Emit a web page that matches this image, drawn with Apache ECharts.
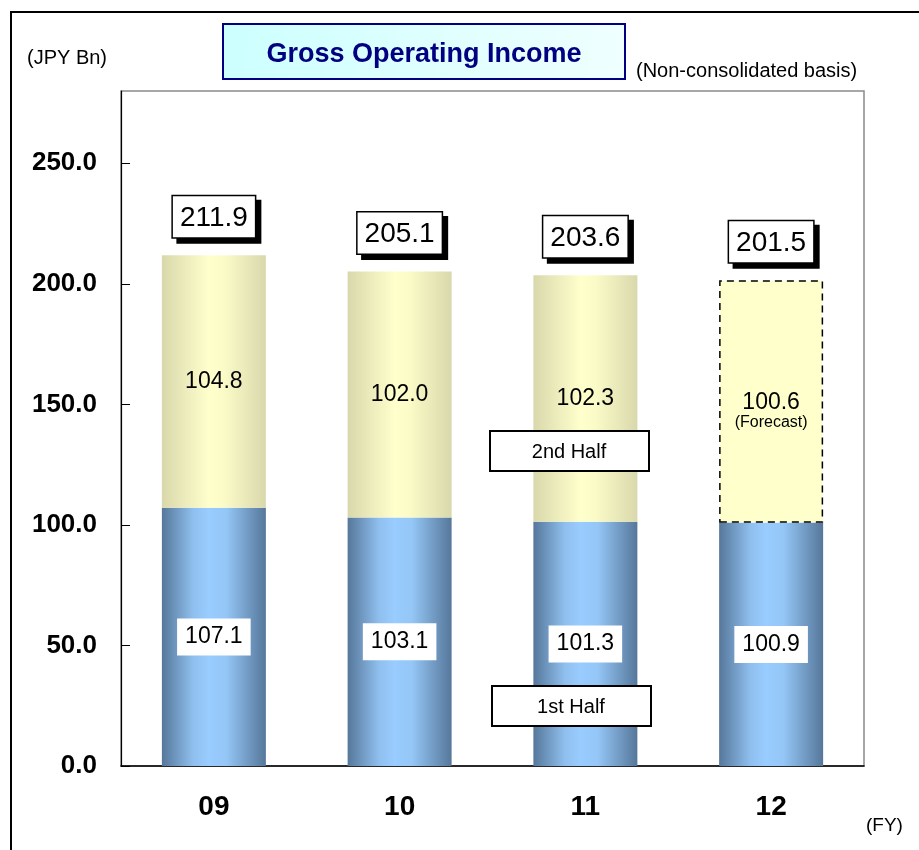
<!DOCTYPE html>
<html>
<head>
<meta charset="utf-8">
<script src="https://cdn.jsdelivr.net/npm/echarts@6/dist/echarts.min.js"></script>
<style>
  html, body { margin: 0; padding: 0; background: #fff; }
  #chart { width: 919px; height: 850px; }
</style>
</head>
<body>
<div id="chart"></div>
<script>
const years = ['09', '10', '11', '12']
const firstHalf = [107.1, 103.1, 101.3, 100.9]
const secondHalf = [104.8, 102.0, 102.3, 100.6]
const totals = [211.9, 205.1, 203.6, 201.5]
const yTicks = [0, 50, 100, 150, 200, 250]
const forecastIndex = 3

const font = '"Liberation Sans", Arial, sans-serif'

const chart = echarts.init(document.getElementById('chart'))

const blueFill = new echarts.graphic.LinearGradient(0, 0, 1, 0, [
  { offset: 0, color: '#56779a' },
  { offset: 0.3, color: '#8fbfee' },
  { offset: 0.45, color: '#99ccff' },
  { offset: 0.62, color: '#94c6f6' },
  { offset: 1, color: '#56779a' }
])
const yellowFill = new echarts.graphic.LinearGradient(0, 0, 1, 0, [
  { offset: 0, color: '#d8d8ac' },
  { offset: 0.45, color: '#ffffcc' },
  { offset: 0.6, color: '#fbfbc8' },
  { offset: 1, color: '#d8d8ac' }
])

const secondData = secondHalf.map((v, i) => {
  if (i !== forecastIndex) return v
  return {
    value: v,
    itemStyle: {
      color: '#ffffcc',
      borderColor: '#000',
      borderWidth: 1.5,
      borderType: [7, 5]
    },
    label: {
      formatter: '{a|{c}}\n{b|(Forecast)}',
      offset: [0, 10],
      rich: {
        a: { fontSize: 23, color: '#000', fontFamily: font, lineHeight: 22 },
        b: { fontSize: 16, color: '#000', fontFamily: font, lineHeight: 17 }
      }
    }
  }
})

function halfBox(x, y, text) {
  return [
    {
      type: 'rect',
      shape: { x: x, y: y, width: 159, height: 40 },
      style: { fill: '#fff', stroke: '#000', lineWidth: 2 },
      z: 20
    },
    {
      type: 'text',
      x: x + 79,
      y: y + 21,
      style: { text: text, fill: '#000', font: '20px ' + font, align: 'center', verticalAlign: 'middle' },
      z: 21
    }
  ]
}

chart.setOption({
  animation: false,
  backgroundColor: '#fff',
  grid: {
    left: 121,
    right: 55,
    top: 91,
    bottom: 84,
    show: true,
    borderColor: '#8a8a8a',
    borderWidth: 1.5,
    backgroundColor: '#fff'
  },
  xAxis: {
    type: 'category',
    data: years,
    axisLine: { lineStyle: { color: '#000', width: 1.5 } },
    axisTick: { inside: true, length: 9, lineStyle: { color: '#000' } },
    axisLabel: {
      color: '#000',
      fontSize: 28,
      fontWeight: 'bold',
      fontFamily: font,
      margin: 27
    }
  },
  yAxis: {
    type: 'value',
    min: 0,
    max: 280,
    interval: 50,
    axisLine: { show: true, lineStyle: { color: '#000', width: 1.2 } },
    axisTick: { show: true, inside: true, length: 9, customValues: yTicks, lineStyle: { color: '#000' } },
    splitLine: { show: false },
    axisLabel: {
      customValues: yTicks,
      color: '#000',
      fontSize: 26,
      fontWeight: 'bold',
      fontFamily: font,
      margin: 24,
      formatter: v => v.toFixed(1)
    }
  },
  series: [
    {
      name: '1st Half',
      type: 'bar',
      stack: 'gi',
      barWidth: 104,
      data: firstHalf,
      itemStyle: { color: blueFill },
      label: {
        show: true,
        position: 'inside',
        formatter: p => p.value.toFixed(1),
        color: '#000',
        fontSize: 23,
        fontFamily: font,
        backgroundColor: '#fff',
        padding: [8, 8, 6, 8]
      }
    },
    {
      name: '2nd Half',
      type: 'bar',
      stack: 'gi',
      barWidth: 104,
      data: secondData,
      itemStyle: { color: yellowFill },
      label: {
        show: true,
        position: 'inside',
        formatter: p => Number(p.value).toFixed(1),
        color: '#000',
        fontSize: 23,
        fontFamily: font
      }
    },
    {
      name: 'Total',
      type: 'scatter',
      data: totals,
      symbolSize: 0,
      silent: true,
      itemStyle: { opacity: 1, color: '#000' },
      label: {
        show: true,
        position: 'top',
        distance: 18,
        formatter: p => p.value.toFixed(1),
        color: '#000',
        fontSize: 28,
        fontFamily: font,
        backgroundColor: '#fff',
        borderColor: '#000',
        borderWidth: 1.5,
        padding: [8, 7, 5, 7],
        shadowColor: '#000',
        shadowBlur: 0,
        shadowOffsetX: 5,
        shadowOffsetY: 5,
        textShadowColor: 'transparent'
      }
    }
  ],
  graphic: [
    {
      type: 'rect',
      shape: { x: 11, y: 12, width: 1000, height: 1000 },
      style: { fill: 'none', stroke: '#000', lineWidth: 2 },
      z: 100
    },
    {
      type: 'rect',
      shape: { x: 223, y: 24, width: 402, height: 55 },
      style: {
        fill: new echarts.graphic.LinearGradient(0, 0, 1, 1, [
          { offset: 0, color: '#ccffff' },
          { offset: 1, color: '#f0ffff' }
        ]),
        stroke: '#000080',
        lineWidth: 2
      }
    },
    {
      type: 'text',
      x: 424,
      y: 55,
      style: {
        text: 'Gross Operating Income',
        fill: '#000080',
        font: 'bold 27px ' + font,
        align: 'center',
        verticalAlign: 'middle'
      }
    },
    {
      type: 'text',
      x: 27,
      y: 58,
      style: {
        text: '(JPY Bn)',
        fill: '#000',
        font: '20px ' + font,
        verticalAlign: 'middle'
      }
    },
    {
      type: 'text',
      x: 636,
      y: 71,
      style: {
        text: '(Non-consolidated basis)',
        fill: '#000',
        font: '20px ' + font,
        verticalAlign: 'middle'
      }
    },
    {
      type: 'text',
      x: 866,
      y: 826,
      style: {
        text: '(FY)',
        fill: '#000',
        font: '19px ' + font,
        verticalAlign: 'middle'
      }
    },
    ...halfBox(490, 431, '2nd Half'),
    ...halfBox(492, 686, '1st Half')
  ]
})
</script>
</body>
</html>
